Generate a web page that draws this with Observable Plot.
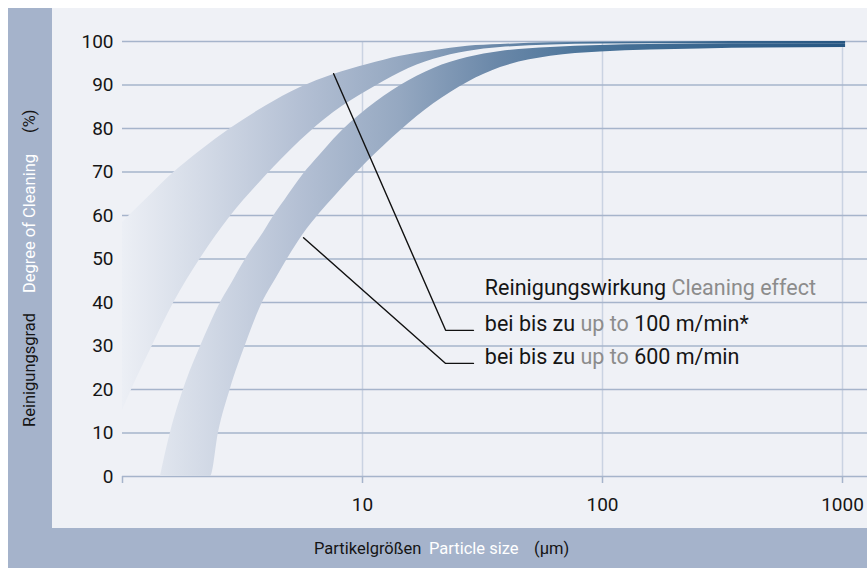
<!DOCTYPE html>
<html><head><meta charset="utf-8">
<script src="https://cdn.jsdelivr.net/npm/d3@7"></script>
<script src="https://cdn.jsdelivr.net/npm/@observablehq/plot@0.6"></script>
<style>
body{margin:0;background:#fff;}
#wrap{position:relative;width:867px;height:568px;overflow:hidden;background:#fff;font-family:Roboto,sans-serif;}
#frame{position:absolute;left:8px;top:8px;right:0;bottom:0;background:#a5b3cb;}
#panel{position:absolute;left:52px;top:8px;right:0;height:520px;background:#eff1f6;}
#chart{position:absolute;left:0;top:0;}
</style></head><body>
<div id="wrap"><div id="frame"></div><div id="panel"></div><div id="chart"></div></div>
<script>
// ---- data ----
const yTicks = [0, 10, 20, 30, 40, 50, 60, 70, 80, 90, 100];
const xGridTicks = [10, 100, 1000];
const xAxisTicks = [1, 10, 100, 1000];
const xTickLabels = ["", "10", "100", "1000"];

// band "bei bis zu 100 m/min*"
const band100X  = [1.0, 1.111, 1.334, 1.631, 2.113, 2.818, 3.94, 5.51, 7.58, 10.5, 14.4, 19.8, 27.4, 37.6, 60.8, 98, 255, 1030];
const band100Lo = [15.2, 20.9, 30.1, 39.8, 50.1, 59.8, 69.0, 77.2, 83.7, 88.7, 92.9, 95.9, 97.7, 98.6, 99.2, 99.4, 99.5, 99.5];
const band100Hi = [58.4, 60.9, 65.2, 69.8, 74.9, 80.0, 85.1, 89.4, 92.4, 94.7, 96.6, 97.9, 98.9, 99.3, 99.7, 99.8, 99.95, 100];

// band "bei bis zu 600 m/min"
const band600X  = [1.439, 1.585, 1.796, 2.113, 2.328, 2.512, 2.818, 3.25, 3.87, 4.34, 4.77, 5.62, 6.68, 7.58, 10.5, 14.4, 19.8, 27.4, 37.6, 60.8, 98, 255, 1030];
const band600Lo = [0, 0, 0, 0, 0, 10.1, 20.2, 30.1, 40.5, 45.3, 49.2, 55.4, 60.7, 64.1, 72.4, 79.5, 85.7, 90.6, 94.0, 96.6, 97.6, 98.3, 98.6];
const band600Hi = [0, 10.1, 20.0, 29.9, 35.2, 39.1, 43.9, 49.9, 56.1, 60.5, 63.7, 69.2, 74.0, 77.5, 84.6, 89.9, 93.8, 96.3, 97.7, 98.6, 99.1, 99.4, 99.5];

// leader lines
const leader100X = [7.58, 22.2, 29.0];
const leader100Y = [92.6, 33.6, 33.6];
const leader600X = [5.68, 22.2, 29.0];
const leader600Y = [54.9, 26.0, 26.0];

// annotation texts
const annoX = 32.5;
const annoY = [41.6, 33.3, 25.7];
const annoLines = [
  [["Reinigungswirkung ", "#151515"], ["Cleaning effect", "#8c8c8c"]],
  [["bei bis zu ", "#151515"], ["up to", "#8c8c8c"], [" 100 m/min*", "#151515"]],
  [["bei bis zu ", "#151515"], ["up to", "#8c8c8c"], [" 600 m/min", "#151515"]]
];
const yTitleParts = [["Reinigungsgrad", "#151515", 427], ["Degree of Cleaning", "#ffffff", 293], ["(%)", "#151515", 133]];
const xTitleParts = [["Partikelgrößen", "#151515", 314], ["Particle size", "#ffffff", 429], ["(µm)", "#151515", 534]];

// gradient colours along the x axis (offset, colour)
const gradStops = [[0, "#eceff5"], [0.108, "#d4dbe7"], [0.246, "#b4c0d4"], [0.385, "#95a8c1"], [0.523, "#6987a8"], [0.661, "#487298"], [1, "#275783"]];

// ---- build ----
const band100 = band100X.map((x, i) => ({x, lo: band100Lo[i], hi: band100Hi[i]}));
const band600 = band600X.map((x, i) => ({x, lo: band600Lo[i], hi: band600Hi[i]}));
const leader100 = leader100X.map((x, i) => ({x, y: leader100Y[i]}));
const leader600 = leader600X.map((x, i) => ({x, y: leader600Y[i]}));

const plot = Plot.plot({
  width: 867, height: 568,
  marginLeft: 122, marginRight: 0, marginTop: 41, marginBottom: 92,
  style: {background: "transparent", fontFamily: "Roboto, sans-serif", overflow: "visible"},
  x: {type: "log", domain: [1, 1271]},
  y: {domain: [0, 100]},
  marks: [
    Plot.gridX(xGridTicks, {stroke: "#cad3e2", strokeOpacity: 1, strokeWidth: 1.5}),
    Plot.gridY(yTicks, {stroke: "#a6b4cb", strokeOpacity: 1, strokeWidth: 1.5}),
    Plot.areaY(band100, {x: "x", y1: "lo", y2: "hi", fill: "url(#bandGrad)", curve: "monotone-x"}),
    Plot.areaY(band600, {x: "x", y1: "lo", y2: "hi", fill: "url(#bandGrad)", curve: "monotone-x"}),
    Plot.axisX(xAxisTicks, {tickFormat: d => xTickLabels[xAxisTicks.indexOf(d)], tickSize: 7, tickPadding: 14, stroke: "#a6b4cb", strokeWidth: 1.5, fill: "#151515", fontSize: 19, label: null}),
    Plot.axisY(yTicks, {tickSize: 0, tickPadding: 9, fill: "#151515", fontSize: 19, label: null}),
    Plot.line(leader100, {x: "x", y: "y", stroke: "#111", strokeWidth: 1.4}),
    Plot.line(leader600, {x: "x", y: "y", stroke: "#111", strokeWidth: 1.4})
  ]
});

const xs = plot.scale("x"), ys = plot.scale("y");
const svg = d3.select(plot);
const grad = svg.insert("defs", ":first-child").append("linearGradient")
  .attr("id", "bandGrad").attr("gradientUnits", "userSpaceOnUse")
  .attr("x1", xs.apply(1)).attr("x2", xs.apply(1000)).attr("y1", 0).attr("y2", 0);
gradStops.forEach(([o, c]) => grad.append("stop").attr("offset", o).attr("stop-color", c));

// annotations
annoLines.forEach((parts, i) => {
  const t = svg.append("text").attr("x", xs.apply(annoX)).attr("y", ys.apply(annoY[i]))
    .attr("text-anchor", "start").attr("font-size", 21.5).attr("font-family", "Roboto, sans-serif")
    .style("white-space", "pre");
  parts.forEach(([s, c]) => t.append("tspan").attr("fill", c).text(s));
});

// y title (rotated)
yTitleParts.forEach(([s, c, y]) => {
  svg.append("text").attr("transform", `translate(35,${y}) rotate(-90)`).attr("text-anchor", "start")
    .attr("font-size", 16.5).attr("font-family", "Roboto, sans-serif").attr("fill", c).text(s);
});
// x title
xTitleParts.forEach(([s, c, x]) => {
  svg.append("text").attr("x", x).attr("y", 554).attr("text-anchor", "start")
    .attr("font-size", 16.5).attr("font-family", "Roboto, sans-serif").attr("fill", c).text(s);
});

document.getElementById("chart").appendChild(plot);
</script></body></html>
